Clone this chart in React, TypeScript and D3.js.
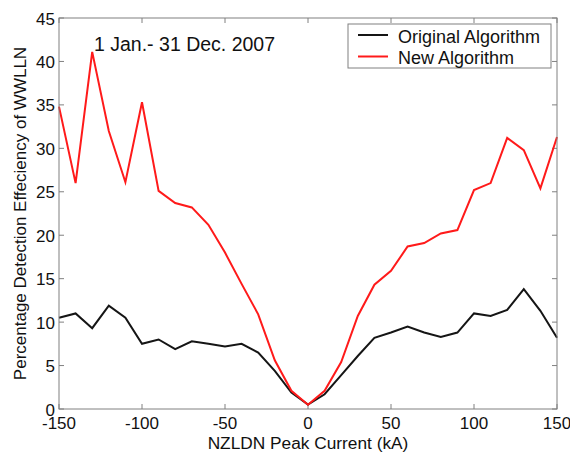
import React from 'react';
import * as d3 from 'd3';

// peak current bins (kA)
const currents = [
  -150, -140, -130, -120, -110, -100, -90, -80, -70, -60, -50, -40, -30, -20, -10,
  0, 10, 20, 30, 40, 50, 60, 70, 80, 90, 100, 110, 120, 130, 140, 150,
];

const originalAlg = [
  10.5, 11.0, 9.3, 11.9, 10.5, 7.5, 8.0, 6.9, 7.8, 7.5, 7.2, 7.5, 6.5, 4.4, 1.9,
  0.5, 1.7, 3.9, 6.1, 8.2, 8.8, 9.5, 8.8, 8.3, 8.8, 11.0, 10.7, 11.4, 13.8, 11.3, 8.2,
];

const newAlg = [
  34.8, 26.0, 41.1, 32.0, 26.1, 35.3, 25.1, 23.7, 23.2, 21.2, 18.0, 14.4, 10.9, 5.6, 2.1,
  0.5, 2.1, 5.4, 10.7, 14.3, 15.9, 18.7, 19.1, 20.2, 20.6, 25.2, 26.0, 31.2, 29.8, 25.4, 31.3,
];

const xTicks = [-150, -100, -50, 0, 50, 100, 150];
const yTicks = [0, 5, 10, 15, 20, 25, 30, 35, 40, 45];

const legendItems = [
  { label: 'Original Algorithm', color: '#151515' },
  { label: 'New Algorithm', color: '#ff1a1a' },
];

const W = 570;
const H = 453;
const margin = { left: 59, right: 13, top: 18, bottom: 44 };
const font = 'Liberation Sans, Arial, Helvetica, sans-serif';

export default function App() {
  const x = d3.scaleLinear().domain([-150, 150]).range([margin.left, W - margin.right]);
  const y = d3.scaleLinear().domain([0, 45]).range([H - margin.bottom, margin.top]);

  const line = d3
    .line<number>()
    .x((_, i) => x(currents[i]))
    .y((d) => y(d));

  const x0 = x.range()[0];
  const x1 = x.range()[1];
  const y0 = y.range()[0];
  const y1 = y.range()[1];
  const tick = 5;
  const frame = '#808080';

  const lx = 348;
  const ly = 24;

  return (
    <svg
      width={W}
      height={H}
      style={{ position: 'absolute', left: 0, top: 0, background: '#fff' }}
      fontFamily={font}
    >
      {/* ticks, inside on all sides */}
      {xTicks.map((t) => (
        <g key={'x' + t}>
          <line x1={x(t)} x2={x(t)} y1={y0} y2={y0 - tick} stroke={frame} />
          <line x1={x(t)} x2={x(t)} y1={y1} y2={y1 + tick} stroke={frame} />
          <text x={x(t)} y={y0 + 20} textAnchor="middle" fontSize={17} fill="#111">
            {t < 0 ? '-' + Math.abs(t) : t}
          </text>
        </g>
      ))}
      {yTicks.map((t) => (
        <g key={'y' + t}>
          <line x1={x0} x2={x0 + tick} y1={y(t)} y2={y(t)} stroke={frame} />
          <line x1={x1} x2={x1 - tick} y1={y(t)} y2={y(t)} stroke={frame} />
          <text x={x0 - 4} y={y(t) + 6.5} textAnchor="end" fontSize={17} fill="#111">
            {t}
          </text>
        </g>
      ))}

      <path d={line(originalAlg) ?? ''} fill="none" stroke={legendItems[0].color} strokeWidth={2} />
      <path d={line(newAlg) ?? ''} fill="none" stroke={legendItems[1].color} strokeWidth={2} />

      <rect x={x0} y={y1} width={x1 - x0} height={y0 - y1} fill="none" stroke={frame} />

      <text x={94} y={51} fontSize={19.5} fill="#111">
        1 Jan.- 31 Dec. 2007
      </text>

      {/* legend */}
      <rect x={lx} y={ly} width={203} height={44} fill="#fff" stroke={frame} />
      {legendItems.map((d, i) => (
        <g key={d.label}>
          <line
            x1={lx + 10}
            x2={lx + 40}
            y1={ly + 11 + i * 21.5}
            y2={ly + 11 + i * 21.5}
            stroke={d.color}
            strokeWidth={2}
          />
          <text x={lx + 50} y={ly + 18.5 + i * 21} fontSize={18} fill="#111">
            {d.label}
          </text>
        </g>
      ))}

      <text x={(x0 + x1) / 2} y={449} textAnchor="middle" fontSize={17.3} fill="#111">
        NZLDN Peak Current (kA)
      </text>
      <text
        transform={`translate(26, ${(y0 + y1) / 2}) rotate(-90)`}
        textAnchor="middle"
        fontSize={17}
        fill="#111"
      >
        Percentage Detection Effeciency of WWLLN
      </text>
    </svg>
  );
}
